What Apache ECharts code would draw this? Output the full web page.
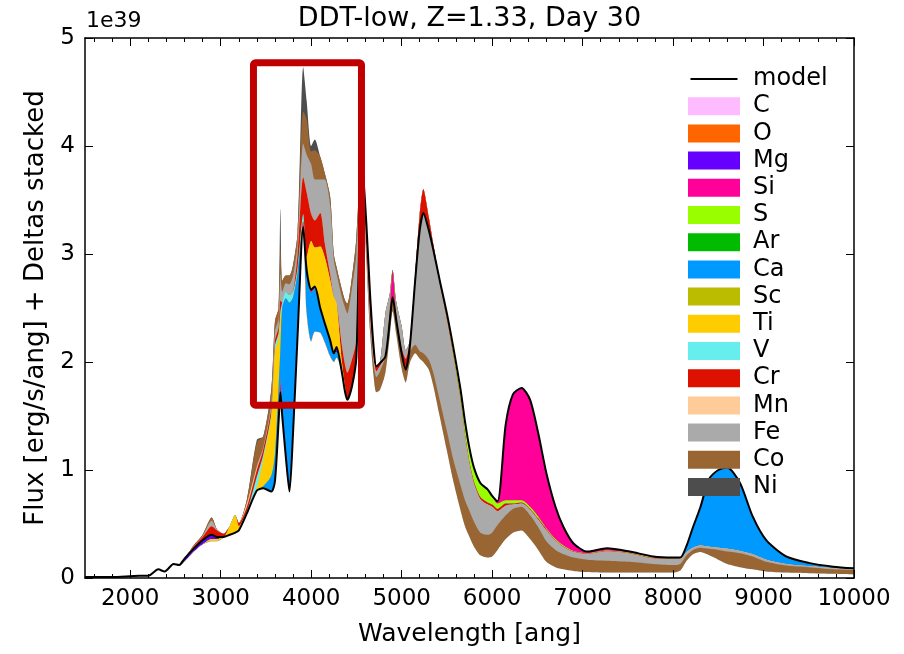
<!DOCTYPE html>
<html><head><meta charset="utf-8">
<script src="https://cdn.jsdelivr.net/npm/echarts@6/dist/echarts.min.js"></script>
<style>html,body{margin:0;padding:0;background:#fff}#c{width:904px;height:654px}</style>
</head><body><div id="c"></div>
<script>
// ---------------- data (flux in units of 1e39 erg/s/ang) ----------------
const wavelength = [1500,1800,2100,2200,2310,2380,2480,2540,2600,2700,
  2800,2900,2960,3030,3100,3160,3200,3290,3400,3470,
  3560,3600,3640,3660,3680,3720,3760,3800,3850,3912,
  3950,4000,4040,4100,4150,4210,4250,4280,4340,4375,
  4400,4450,4500,4560,4610,4650,4690,4720,4760,4820,
  4870,4900,4940,5000,5045,5090,5150,5200,5240,5300,
  5350,5420,5500,5570,5650,5700,5750,5800,5870,5950,
  6000,6060,6150,6230,6325,6420,6510,6600,6700,6790,
  6900,7050,7270,7520,7780,8000,8080,8150,8220,8300,
  8400,8500,8600,8740,8880,9030,9250,9500,9770,10000];

const model = [0.01,0.01,0.02,0.02,0.08,0.06,0.13,0.12,0.18,0.27,
  0.35,0.40,0.38,0.38,0.40,0.42,0.44,0.60,0.81,0.83,
  0.80,0.90,1.45,1.72,1.50,1.12,0.80,1.35,2.25,3.25,
  2.85,2.67,2.70,2.50,2.36,2.20,2.08,2.14,1.90,1.72,
  1.65,1.77,2.05,3.90,3.28,2.64,2.14,1.96,1.99,2.05,
  2.39,2.60,2.39,2.08,1.93,2.14,2.76,3.22,3.38,3.22,
  3.04,2.76,2.45,2.14,1.75,1.45,1.20,1.02,0.88,0.82,
  0.76,0.71,1.42,1.70,1.76,1.65,1.34,0.97,0.66,0.47,
  0.32,0.245,0.275,0.245,0.20,0.19,0.19,0.30,0.47,0.65,
  0.92,1.00,1.02,0.88,0.57,0.35,0.20,0.14,0.105,0.09];

// per-element deltas (positive: stacked above the model, negative: below)
const dC = [];   // no visible contribution
const dO = [];   // no visible contribution
const dMg = [0,0,0,0,0,0,0,-0.01,-0.03,-0.03,
  -0.04,-0.04,-0.02,0,0,0,0,0,0,0,
  0,0,0,0,0,0,0,0,0,0,
  0,0,0,0,0,0,0,-0.05,0,0,
  0,0,0,0,0,0,0,0,0,0, 0,0,0,0,0,0,0,0,0,0, 0,0,0,0,0,0,0,0,0,0,
  0,0,0,0,0,0,0,0,0,0, 0,0,0,0,0,0,0,0,0,0, 0,0,0,0,0,0,0,0,0,0];
const dSi = [0,0,0,0,0,0,0,0,0,0,
  0,0,0,0,0,0,0,0,0,0,
  0,0,0.12,0.10,0.05,0.04,0,0,0.03,0.05,
  0.02,-0.03,-0.02,0,0,0,0,0,0,0,
  0,0,0,0,0,0,0,0,0,0,
  0.10,0.25,0.05,0,0,0,0,0,0,0,
  0,0,0,0,0,0,0,0,0,0,
  0,-0.02,-0.70,-0.98,-1.04,-0.99,-0.77,-0.51,-0.30,-0.17,
  -0.07,-0.015,-0.02,-0.01,-0.01,-0.005,-0.005,0,0,0,
  0,0,0,-0.005,-0.005,-0.01,-0.01,-0.005,-0.005,-0.003];
const dS = [0,0,0,0,0,0,0,0,0,0, 0,0,0,0,0,0,0,0,0,0, 0,0,0,0,0,0,0,0,0,0,
  0,0,0,0,0,0,0,0,0,0, 0,0,0,0,0,0,0,0,0,0, 0,0,0,0,0,0,0,0,0,0,
  -0.01,-0.03,-0.05,-0.07,-0.10,-0.12,-0.13,-0.13,-0.13,-0.12,
  -0.08,-0.05,-0.03,-0.03,-0.02,-0.02,-0.02,-0.01,-0.01,-0.01,
  -0.005,-0.005,-0.005,-0.005,-0.005,-0.005,0,0,0,0,
  0,0,0,0,0,0,0,0,0,0];
const dAr = [];  // no visible contribution
const dCa = [0,0,0,0,0,0,0,0,0,0,
  0,0,0,0,0,0,0,0,0,0.02,
  0.15,0.25,0.20,0.30,0.95,1.43,1.75,1.25,0.55,0,
  -0.40,-0.45,-0.40,-0.23,-0.18,-0.15,-0.08,-0.05,0,0,
  0,0,0,0,0,0,0,0,0,0, 0,0,0,0,0,0,0,0,0,0, 0,0,0,0,0,0,0,0,0,0, 0,0,0,0,0,0,0,0,0,0,
  0,0,0,0,0,0,0,-0.06,-0.19,-0.35,
  -0.63,-0.72,-0.75,-0.625,-0.345,-0.17,-0.06,-0.025,-0.01,-0.007];
const dSc = [];  // no visible contribution
const dTi = [0,0,0,0,0,0,0,0,0,0,
  0,-0.02,-0.02,-0.01,0.08,0.16,0.04,0.02,0.03,0.25,
  0.55,0.95,0.45,0.30,0,0,0,0,0,0,
  0.10,0.45,0.36,0.57,0.61,0.56,0.52,0.41,0.10,0.05,
  0,0,0,0,0,0,0,0,0,0, 0,0,0,0,0,0,0,0,0,0, 0,0,0,0,0,0,0,0,0,0,
  0,0,0,0,0,0,0,0,0,0, 0,0,0,0,0,0,0,0,0,0, 0,0,0,0,0,0,0,0,0,0];
const dV = [0,0,0,0,0,0,0,0,0,0,
  0,0,0,0,0,0,0,0,0.10,0.04,
  0.03,0.05,0.05,0.05,0.05,0.06,0.07,0.05,0.05,0.07,
  0,0,0,0,0,0,0,0,0,0, 0,0,0,0,0,0,0,0,0,0, 0,0,0,0,0,0,0,0,0,0, 0,0,0,0,0,0,0,0,0,0,
  0,0,0,0,0,0,0,0,0,0, 0,0,0,0,0,0,0,0,0,0, 0,0,0,0,0,0,0,0,0,0];
const dCr = [0,0,0,0,0,0,0,0,0,0.02,
  0.03,0.08,0.06,0.03,0,0,0.03,0.04,0.06,0.05,
  0.05,0.05,0.05,0.10,0,0,0,0,0.12,0.34,
  0.60,0.25,0.25,0.31,0.13,0.05,0,0,0.15,0.20,
  0.25,0.25,0.15,0.02,-0.20,-0.20,-0.10,-0.05,-0.03,0,
  0,0,0,0.05,0.10,0.05,0.05,0.15,0.22,0.12,
  0.05,-0.01,-0.02,-0.02,-0.02,-0.02,-0.02,-0.02,-0.02,-0.02,
  -0.02,-0.02,-0.02,-0.01,-0.01,-0.01,-0.01,-0.01,-0.005,-0.005,
  -0.005,-0.005,-0.005,-0.005,-0.005,-0.005,-0.005,0,0,0,
  0,0,0,0,0,0,0,0,0,0];
const dMn = [0,0,0,0,0,0,0,0,0,0,
  0,0,0,0,0,0,0,0.03,0.02,0,
  0,0,0,0,0,0,0,0,0,0, 0,0,0,0,0,0,0,0,0,0, 0,0,0,0,0,0,0,0,0,0, 0,0,0,0,0,0,0,0,0,0,
  0,0,0,0,0,0,0,0,0,0, 0,0,0,0,0,0,0,0,0,0, 0,0,0,0,0,0,0,0,0,0, 0,0,0,0,0,0,0,0,0,0];
const dFe = [0,0,0,0,0,0,0,0,0,0,
  0.01,0.05,0.01,0,0,0,0,0,0.02,0.02,
  0.05,0.08,0.08,0.25,0.10,0.08,0.10,0.15,0.10,0.31,
  0.35,0.46,0.38,0.31,0.59,0.64,0.35,0.27,0.45,0.53,
  0.55,0.66,0.80,0,-0.05,-0.05,-0.05,-0.05,-0.05,0.40,
  0.15,0,0.12,0.20,0.08,-0.05,-0.60,-1.12,-1.30,-1.20,
  -1.13,-1.07,-1.02,-0.95,-0.77,-0.59,-0.43,-0.35,-0.31,-0.28,
  -0.24,-0.13,-0.09,-0.04,-0.03,-0.05,-0.07,-0.10,-0.085,-0.065,
  -0.05,-0.05,-0.085,-0.075,-0.05,-0.055,-0.05,-0.03,-0.02,-0.02,
  -0.02,-0.02,-0.025,-0.02,-0.02,-0.02,-0.015,-0.01,-0.01,-0.008];
const dCo = [0,0,0,0,0,0,0.005,0,0,0.01,
  0.01,0.03,0,0,0,0,0,0.04,0.22,0.10,
  0.12,0.10,0.10,0.25,0.10,0.07,0.08,0.10,0.10,0.30,
  0.33,0.12,0.27,0.21,0.06,0.08,0.05,0.06,0.07,0.07,
  0.09,0.10,0.15,0.08,-0.08,-0.10,-0.12,-0.14,-0.17,-0.15,
  -0.14,-0.13,-0.13,-0.14,-0.12,-0.10,-0.08,-0.07,-0.08,-0.09,
  -0.12,-0.15,-0.18,-0.20,-0.23,-0.24,-0.24,-0.23,-0.21,-0.21,
  -0.22,-0.23,-0.22,-0.22,-0.22,-0.22,-0.21,-0.19,-0.16,-0.14,
  -0.125,-0.115,-0.11,-0.10,-0.08,-0.07,-0.06,-0.05,-0.04,-0.04,
  -0.06,-0.09,-0.115,-0.13,-0.12,-0.09,-0.065,-0.055,-0.04,-0.037];
const dNi = [0,0,0,0,0,0,0,0,0,0,
  0,0,0,0,0,0,0,0,0.02,0,
  0,0,0,0.35,0,0,0,0,0,0.41,
  0.17,0.05,0.10,0,0,0,0,0,0,0,
  0,0,0,0,0,0,0,0,0,0, 0,0,0,0,0,0,0,0,0,0, 0,0,0,0,0,0,0,0,0,0,
  0,0,0,0,0,0,0,0,0,0, 0,0,0,0,0,0,0,0,0,0, 0,0,0,0,0,0,0,0,0,0];

const elementNames = ['C','O','Mg','Si','S','Ar','Ca','Sc','Ti','V','Cr','Mn','Fe','Co','Ni'];
const elementDeltas = [dC,dO,dMg,dSi,dS,dAr,dCa,dSc,dTi,dV,dCr,dMn,dFe,dCo,dNi];
const xTickLabels = [2000,3000,4000,5000,6000,7000,8000,9000,10000];
const xMinorTicks = [1600,1800,2200,2400,2600,2800,3200,3400,3600,3800,4200,4400,4600,4800,
  5200,5400,5600,5800,6200,6400,6600,6800,7200,7400,7600,7800,8200,8400,8600,8800,9200,9400,9600,9800];
const yTickLabels = [0,1,2,3,4,5];
const titleText = 'DDT-low, Z=1.33, Day 30';
// annotation box (data coordinates)
const boxWave = [3362, 4556];
const boxFlux = [1.6, 4.77];

// ---------------- styles ----------------
const elementColors = ['#ffbbff','#ff6600','#6600ff','#ff0099','#99ff00','#00bb00','#0099ff',
  '#bbbb00','#ffcc00','#66eeee','#dd1100','#ffcc99','#aaaaaa','#996633','#4d4d4d'];
const FONT = 'DejaVu Sans';
const SMOOTH = 0.25;

// ---------------- stacking ----------------
const N = wavelength.length;
const dv = (arr, i) => (arr[i] || 0);
const posCum = [], negCum = [];
let pPrev = model.slice(), nPrev = model.slice();
elementDeltas.forEach((arr) => {
  const p = [], n = [];
  for (let i = 0; i < N; i++) {
    const d = dv(arr, i);
    p.push(pPrev[i] + Math.max(d, 0));
    n.push(nPrev[i] + Math.min(d, 0));
  }
  posCum.push(p); negCum.push(n);
  pPrev = p; nPrev = n;
});
const pairs = (ys) => ys.map((y, i) => [wavelength[i], y]);

const series = [];
let zc = 2;
function area(name, ys, color) {
  series.push({
    name, type: 'line', data: pairs(ys), symbol: 'none', showSymbol: false, smooth: SMOOTH,
    lineStyle: { width: 0, color }, itemStyle: { color },
    areaStyle: { color, opacity: 1 }, z: zc++, silent: true, animation: false
  });
}
// positive layers: paint from the top of the stack downwards
for (let k = elementNames.length - 1; k >= 0; k--) area(elementNames[k], posCum[k], elementColors[k]);
// negative layers: paint from the model downwards
for (let k = 0; k < elementNames.length; k++) {
  area(elementNames[k], k === 0 ? model : negCum[k - 1], elementColors[k]);
}
area('_base', negCum[elementNames.length - 1], '#ffffff');
series.push({
  name: 'model', type: 'line', data: pairs(model), symbol: 'none', showSymbol: false, smooth: SMOOTH,
  lineStyle: { width: 2, color: '#000' }, itemStyle: { color: '#000' }, z: zc++, animation: false
});

const axisLine = { show: true, lineStyle: { color: '#000', width: 1.5 } };
const tickStyle = { color: '#000', width: 1 };
const xBase = { type: 'value', min: 1500, max: 10000, splitLine: { show: false }, z: 100 };

const chart = echarts.init(document.getElementById('c'), null, { renderer: 'canvas' });
chart.setOption({
  animation: false,
  backgroundColor: '#fff',
  textStyle: { fontFamily: FONT },
  grid: { left: 85, right: 50, top: 38, bottom: 76, containLabel: false },
  legend: {
    data: [{ name: 'model', icon: 'path://M0,0 M47,18 M0,8 L47,8 L47,10 L0,10 Z' }]
      .concat(elementNames.map(n => ({ name: n, icon: 'rect' }))),
    orient: 'vertical', left: 683, top: 62, itemWidth: 52, itemHeight: 18, itemGap: 3.2,
    textStyle: { fontSize: 24, color: '#000', fontFamily: FONT, padding: [0, 0, 0, 8] },
    selectedMode: false, z: 150
  },
  xAxis: [
    Object.assign({}, xBase, {
      position: 'bottom', axisLine,
      axisTick: { show: true, inside: true, length: 8, customValues: xTickLabels, lineStyle: tickStyle },
      axisLabel: { customValues: xTickLabels, formatter: v => String(v), fontSize: 23, color: '#000', margin: 10, fontFamily: FONT },
      name: 'Wavelength [ang]', nameLocation: 'middle', nameGap: 44,
      nameTextStyle: { fontSize: 25, color: '#000', fontFamily: FONT }
    }),
    Object.assign({}, xBase, {
      position: 'bottom', axisLine: { show: false },
      axisTick: { show: true, inside: true, length: 4, customValues: xMinorTicks, lineStyle: tickStyle },
      axisLabel: { show: false }
    }),
    Object.assign({}, xBase, {
      position: 'top', axisLine,
      axisTick: { show: true, inside: true, length: 8, customValues: xTickLabels, lineStyle: tickStyle },
      axisLabel: { show: false }
    }),
    Object.assign({}, xBase, {
      position: 'top', axisLine: { show: false },
      axisTick: { show: true, inside: true, length: 4, customValues: xMinorTicks, lineStyle: tickStyle },
      axisLabel: { show: false }
    })
  ],
  yAxis: [
    {
      type: 'value', min: 0, max: 5, interval: 1, position: 'left', z: 100, axisLine,
      splitLine: { show: false },
      axisTick: { show: true, inside: true, length: 8, lineStyle: tickStyle },
      axisLabel: { customValues: yTickLabels, fontSize: 23, color: '#000', margin: 10, fontFamily: FONT },
      name: 'Flux [erg/s/ang] + Deltas stacked', nameLocation: 'middle', nameGap: 36,
      nameTextStyle: { fontSize: 26, color: '#000', fontFamily: FONT }
    },
    {
      type: 'value', min: 0, max: 5, interval: 1, position: 'right', z: 100, axisLine,
      splitLine: { show: false },
      axisTick: { show: true, inside: true, length: 8, lineStyle: tickStyle },
      axisLabel: { show: false }
    }
  ],
  series
});

const p1 = chart.convertToPixel({ xAxisIndex: 0, yAxisIndex: 0 }, [boxWave[0], boxFlux[1]]);
const p2 = chart.convertToPixel({ xAxisIndex: 0, yAxisIndex: 0 }, [boxWave[1], boxFlux[0]]);
const gl = chart.convertToPixel({ xAxisIndex: 0, yAxisIndex: 0 }, [1500, 5]);
const gr = chart.convertToPixel({ xAxisIndex: 0, yAxisIndex: 0 }, [10000, 5]);
chart.setOption({
  graphic: [
    { type: 'rect', z: 200, silent: true,
      shape: { x: p1[0], y: p1[1], width: p2[0] - p1[0], height: p2[1] - p1[1], r: 2 },
      style: { fill: null, stroke: '#c00000', lineWidth: 7, lineJoin: 'round' } },
    { type: 'text', z: 200, silent: true, x: gl[0] + 1, y: gl[1] - 6,
      style: { text: '1e39', fontSize: 22, fill: '#000', fontFamily: FONT, verticalAlign: 'bottom', textVerticalAlign: 'bottom' } },
    { type: 'text', z: 200, silent: true, x: (gl[0] + gr[0]) / 2, y: gl[1] - 6,
      style: { text: titleText, fontSize: 27, fill: '#000', fontFamily: FONT, align: 'center', textAlign: 'center', verticalAlign: 'bottom', textVerticalAlign: 'bottom' } }
  ]
});
</script>
</body></html>
